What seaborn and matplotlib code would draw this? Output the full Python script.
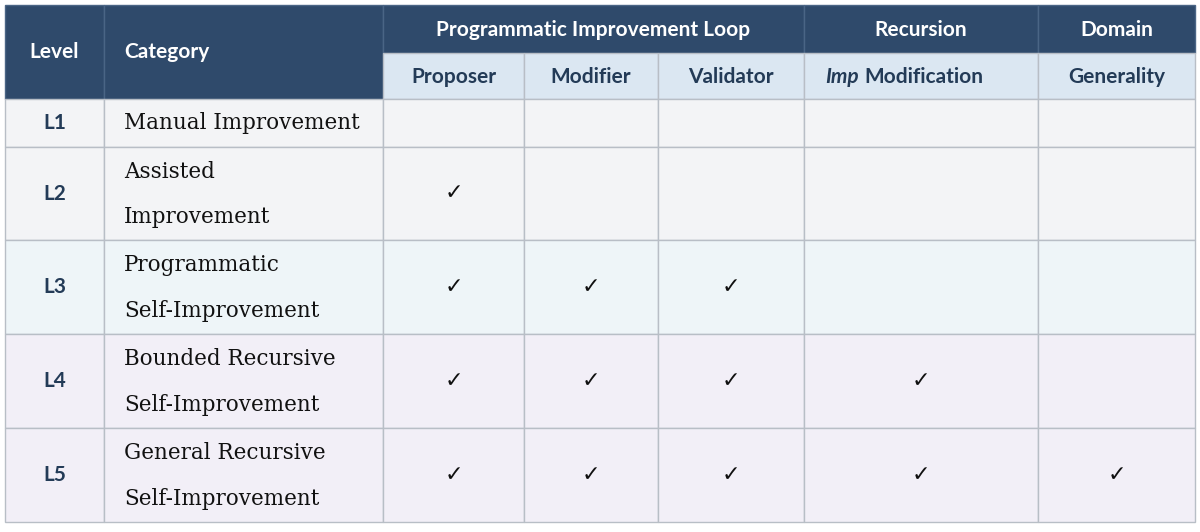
import matplotlib
matplotlib.use("Agg")
import matplotlib.pyplot as plt
from matplotlib.patches import Rectangle
import seaborn as sns

sns.set_theme(style="white")
plt.rcParams['font.family'] = ['Lato', 'DejaVu Sans']

levels = ["L1", "L2", "L3", "L4", "L5"]
categories = [["Manual Improvement"], ["Assisted", "Improvement"],
              ["Programmatic", "Self-Improvement"],
              ["Bounded Recursive", "Self-Improvement"],
              ["General Recursive", "Self-Improvement"]]
groups = ["Programmatic Improvement Loop", "Recursion", "Domain"]
subcols = ["Proposer", "Modifier", "Validator", "Imp Modification", "Generality"]
checks = [[0, 0, 0, 0, 0], [1, 0, 0, 0, 0], [1, 1, 1, 0, 0], [1, 1, 1, 1, 0], [1, 1, 1, 1, 1]]

xb = [5, 104, 383, 524, 658, 804, 1038, 1195]
yb = [5, 53, 99, 147, 240, 334, 428, 522]
row_colors = ["#f3f4f6", "#f3f4f6", "#eef5f8", "#f2eff7", "#f2eff7"]
navy = "#2f4a6b"
sub = "#dbe7f2"
line = "#b8bec6"

fig = plt.figure(figsize=(12, 5.32), dpi=100)
ax = fig.add_axes([0, 0, 1, 1])
ax.set_xlim(0, 1200); ax.set_ylim(532, 0); ax.axis("off")

def rect(x0, y0, x1, y1, fc, ec=line):
    ax.add_patch(Rectangle((x0, y0), x1 - x0, y1 - y0, facecolor=fc, edgecolor=ec, lw=1))

rect(xb[0], yb[0], xb[1], yb[2], navy, "#4a6585")
rect(xb[1], yb[0], xb[2], yb[2], navy, "#4a6585")
ax.text((xb[0]+xb[1])/2, (yb[0]+yb[2])/2, "Level", color="white", fontsize=15, fontweight="bold", ha="center", va="center")
ax.text(xb[1]+20, (yb[0]+yb[2])/2, "Category", color="white", fontsize=15, fontweight="bold", ha="left", va="center")
spans = [(2, 5), (5, 6), (6, 7)]
for g, (a, b) in zip(groups, spans):
    rect(xb[a], yb[0], xb[b], yb[1], navy, "#4a6585")
    ax.text((xb[a]+xb[b])/2, (yb[0]+yb[1])/2 + 1, g, color="white", fontsize=15, fontweight="bold", ha="center", va="center")
for i, s in enumerate(subcols):
    a = i + 2
    rect(xb[a], yb[1], xb[a+1], yb[2], sub)
    cx, cy = (xb[a]+xb[a+1])/2, (yb[1]+yb[2])/2 + 1
    if s.startswith("Imp "):
        ax.text(cx - 96, cy, "Imp", color="#233b57", fontsize=15, fontweight="bold", style="italic", ha="left", va="center")
        ax.text(cx - 57, cy, "Modification", color="#233b57", fontsize=15, fontweight="bold", ha="left", va="center")
    else:
        ax.text(cx, cy, s, color="#233b57", fontsize=15, fontweight="bold", ha="center", va="center")

for r in range(5):
    y0, y1 = yb[r+2], yb[r+3]
    cy = (y0 + y1) / 2
    for c in range(7):
        rect(xb[c], y0, xb[c+1], y1, row_colors[r])
    ax.text((xb[0]+xb[1])/2, cy, levels[r], color="#233b57", fontsize=15, fontweight="bold", ha="center", va="center")
    lines = categories[r]
    if len(lines) == 1:
        ax.text(xb[1]+20, cy, lines[0], color="#111", fontsize=15.5, family="DejaVu Serif", ha="left", va="center")
    else:
        ax.text(xb[1]+20, cy - 22, lines[0], color="#111", fontsize=15.5, family="DejaVu Serif", ha="left", va="center")
        ax.text(xb[1]+20, cy + 24, lines[1], color="#111", fontsize=15.5, family="DejaVu Serif", ha="left", va="center")
    for c in range(5):
        if checks[r][c]:
            ax.text((xb[c+2]+xb[c+3])/2, cy, "\u2713", color="#111", fontsize=16, family="DejaVu Sans", ha="center", va="center")

fig.savefig("out.png", dpi=100, facecolor="white")
